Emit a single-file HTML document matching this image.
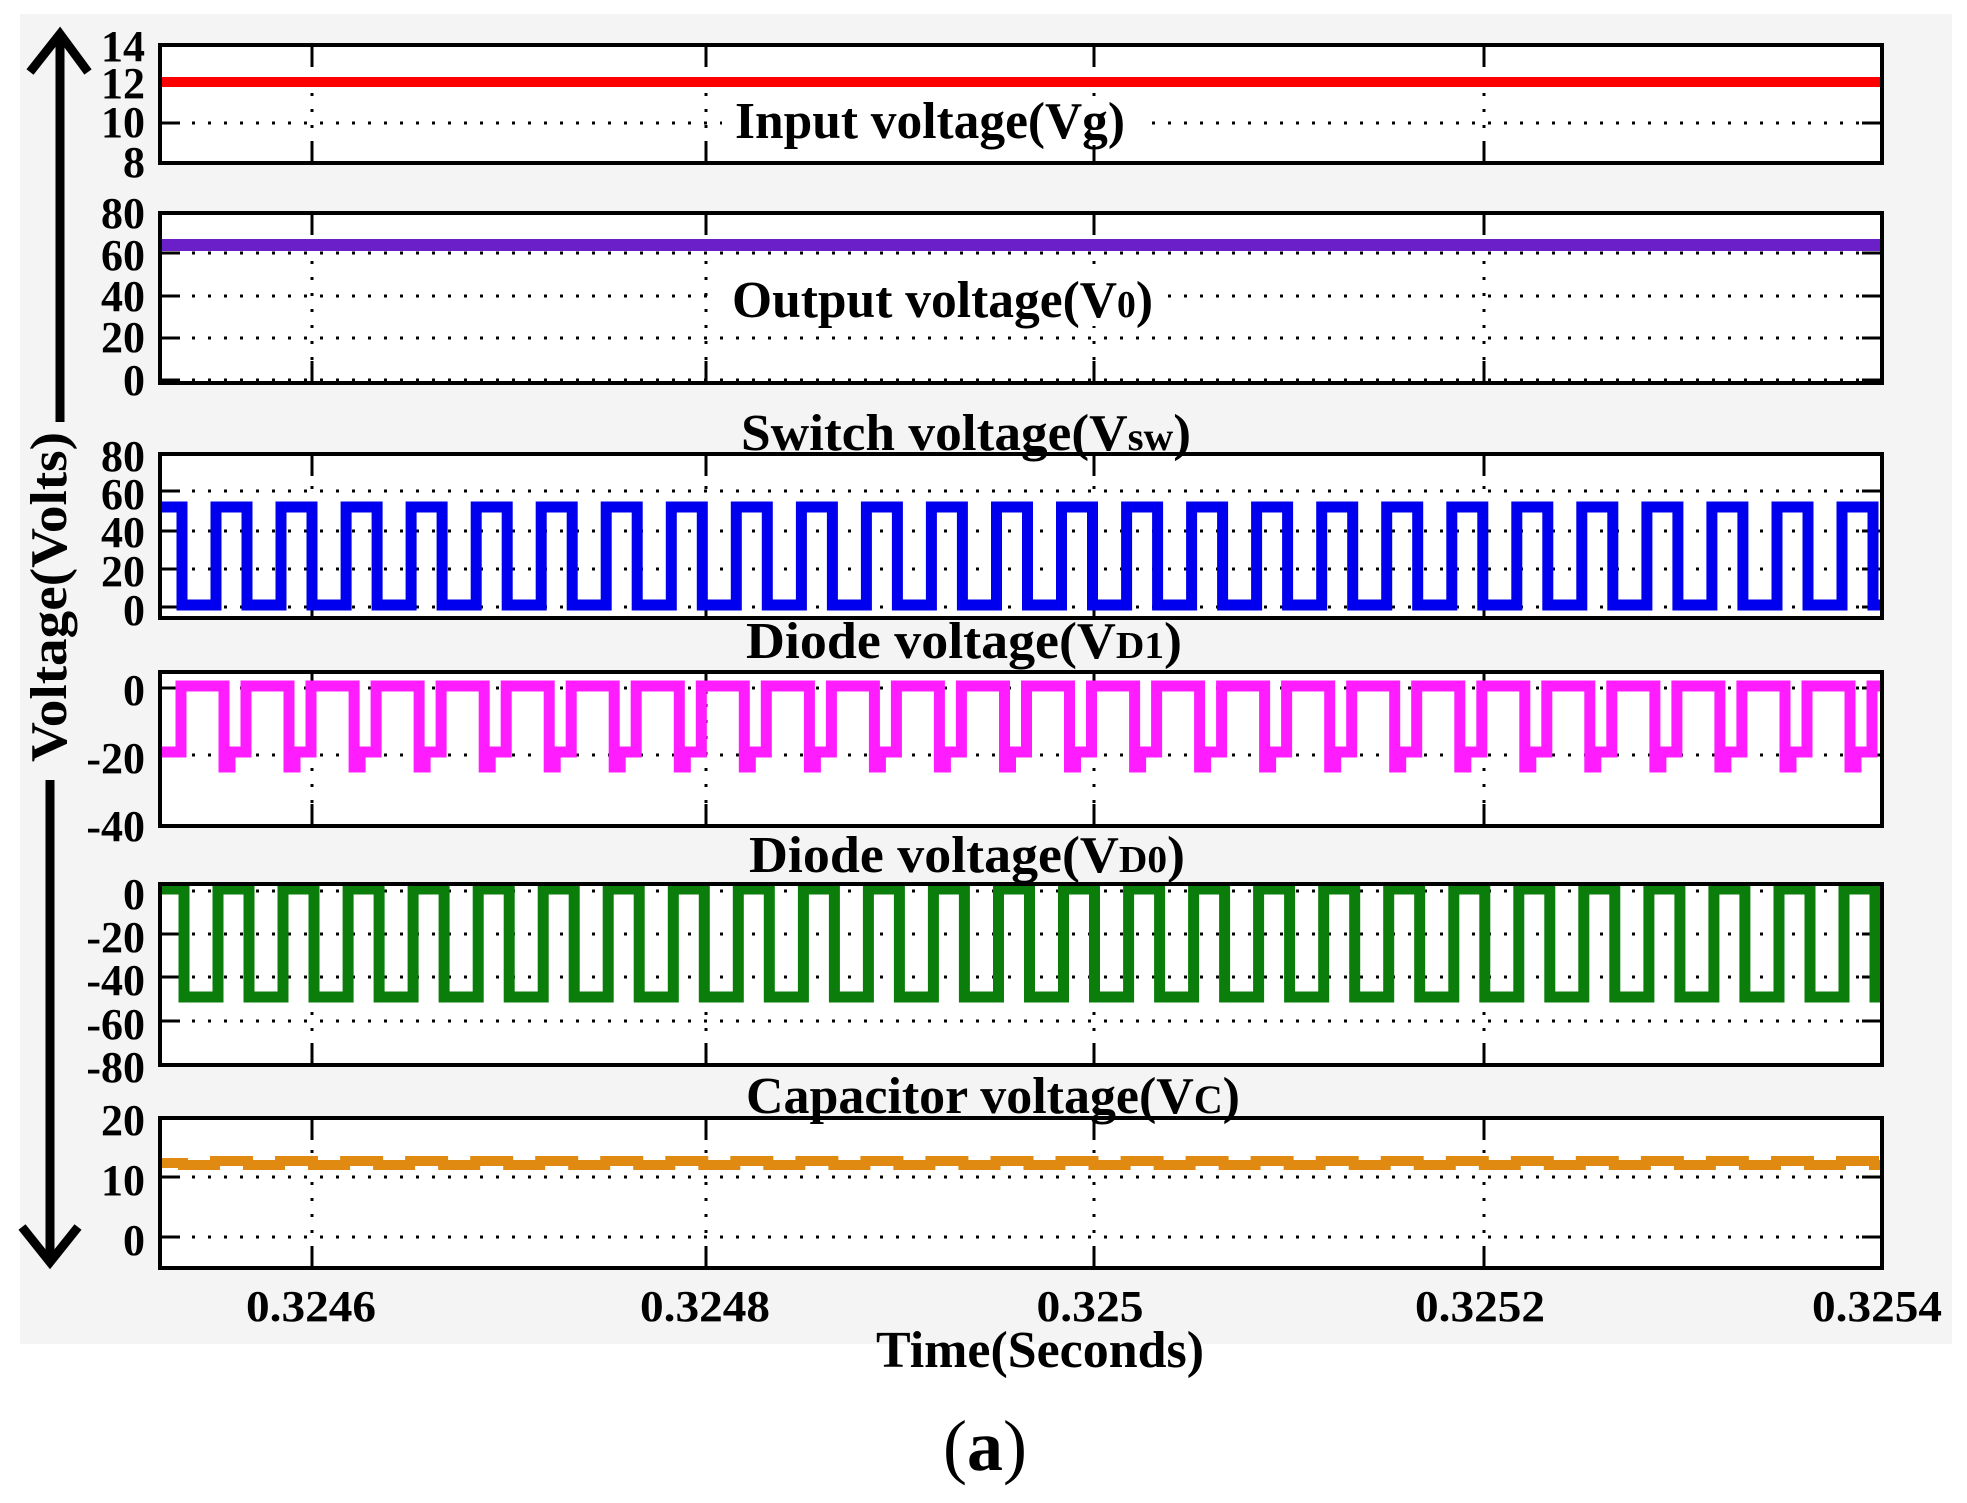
<!DOCTYPE html>
<html><head><meta charset="utf-8"><style>
html,body{margin:0;padding:0;background:#fff;}
svg{display:block;}
text{font-family:"Liberation Serif",serif;font-weight:bold;fill:#000;}
</style></head><body>
<svg id="s" width="1967" height="1503" viewBox="0 0 1967 1503" xmlns="http://www.w3.org/2000/svg">
<rect x="20" y="14" width="1932" height="1330" fill="#f4f4f4"/>
<g id="g"></g>
<g id="t">
<text x="735" y="138" font-size="52" textLength="390" lengthAdjust="spacingAndGlyphs">Input voltage(Vg)</text>
<text x="732" y="317" font-size="52" textLength="421" lengthAdjust="spacingAndGlyphs">Output voltage(V<tspan font-size="38">0</tspan>)</text>
<text x="741" y="450" font-size="52" textLength="450" lengthAdjust="spacingAndGlyphs">Switch voltage(V<tspan font-size="40">sw</tspan>)</text>
<text x="746" y="658" font-size="52" textLength="436" lengthAdjust="spacingAndGlyphs">Diode voltage(V<tspan font-size="38">D1</tspan>)</text>
<text x="749" y="872" font-size="52" textLength="436" lengthAdjust="spacingAndGlyphs">Diode voltage(V<tspan font-size="38">D0</tspan>)</text>
<text x="746" y="1113" font-size="52" textLength="494" lengthAdjust="spacingAndGlyphs">Capacitor voltage(V<tspan font-size="40">C</tspan>)</text>
<text x="311" y="1321" font-size="44" text-anchor="middle" textLength="130" lengthAdjust="spacingAndGlyphs">0.3246</text>
<text x="705" y="1321" font-size="44" text-anchor="middle" textLength="130" lengthAdjust="spacingAndGlyphs">0.3248</text>
<text x="1090" y="1321" font-size="44" text-anchor="middle" textLength="107" lengthAdjust="spacingAndGlyphs">0.325</text>
<text x="1480" y="1321" font-size="44" text-anchor="middle" textLength="130" lengthAdjust="spacingAndGlyphs">0.3252</text>
<text x="1877" y="1321" font-size="44" text-anchor="middle" textLength="130" lengthAdjust="spacingAndGlyphs">0.3254</text>
<text x="876" y="1367" font-size="52" textLength="328" lengthAdjust="spacingAndGlyphs">Time(Seconds)</text>
<text x="985" y="1470" font-size="72" text-anchor="middle" style="font-weight:normal">(<tspan font-weight="bold">a</tspan>)</text>
<text transform="translate(66,597) rotate(-90)" font-size="52" text-anchor="middle" textLength="330" lengthAdjust="spacingAndGlyphs">Voltage(Volts)</text>
</g>
<line x1="60" y1="422" x2="60" y2="40" stroke="#000" stroke-width="9"/>
<polyline points="30,72 60,34 88,72" fill="none" stroke="#000" stroke-width="9"/>
<line x1="50" y1="780" x2="50" y2="1258" stroke="#000" stroke-width="9"/>
<polyline points="22,1227 50,1262 78,1227" fill="none" stroke="#000" stroke-width="9"/>
</svg>
<script>
(function(){
var NS="http://www.w3.org/2000/svg",g=document.getElementById('g'),T=document.getElementById('t');
function el(n,a,p){var e=document.createElementNS(NS,n);for(var k in a)e.setAttribute(k,a[k]);(p||g).appendChild(e);return e;}
var L=160,R=1882,VG=[312,706,1094,1484],P=65.04;
var panels=[
 {top:45,bot:163,grid:[84,123],ticks:[[14,46],[12,83],[10,122],[8,162]]},
 {top:213,bot:383,grid:[253,296,338,380],ticks:[[80,213],[60,255],[40,296],[20,337],[0,380]]},
 {top:454,bot:618,grid:[491,531,569,607],ticks:[[80,456],[60,494],[40,532],[20,571],[0,610]]},
 {top:672,bot:826,grid:[688,755],ticks:[[0,690],[-20,758],[-40,826]]},
 {top:884,bot:1065,grid:[891,934,977,1021],ticks:[[0,894],[-20,937],[-40,980],[-60,1024],[-80,1067]]},
 {top:1118,bot:1268,grid:[1177,1237],ticks:[[20,1120],[10,1180],[0,1240]]}
];
panels.forEach(function(p){
 el('rect',{x:L,y:p.top,width:R-L,height:p.bot-p.top,fill:'#fff'});
 p.grid.forEach(function(y){
  el('line',{x1:L,y1:y,x2:R,y2:y,stroke:'#000','stroke-width':3,'stroke-dasharray':'3 13'});
  el('line',{x1:L,y1:y,x2:L+20,y2:y,stroke:'#000','stroke-width':3});
  el('line',{x1:R-20,y1:y,x2:R,y2:y,stroke:'#000','stroke-width':3});
 });
 VG.forEach(function(x){
  el('line',{x1:x,y1:p.top,x2:x,y2:p.bot,stroke:'#000','stroke-width':3,'stroke-dasharray':'3 13'});
  el('line',{x1:x,y1:p.top,x2:x,y2:p.top+22,stroke:'#000','stroke-width':3});
  el('line',{x1:x,y1:p.bot-22,x2:x,y2:p.bot,stroke:'#000','stroke-width':3});
 });
 p.ticks.forEach(function(t){
  var e=el('text',{x:145,y:t[1]+15,'font-size':44,'text-anchor':'end'},T);e.textContent=(t[0]<0?'-'+(-t[0]):t[0]);
 });
});
function sq(riseAt,hiW,yH,yL,startHigh){
 var d='M'+L+' '+(startHigh?yH:yL);
 var pts=[];
 for(var k=-3;k<40;k++){var r=riseAt+P*k,f=r+hiW;pts.push([r,1]);pts.push([f,0]);}
 pts.forEach(function(q){var x=q[0];if(x<=L||x>=R)return;
  d+=' H'+x.toFixed(1)+' V'+(q[1]?yH:yL);});
 d+=' H'+R;return d;
}
var W=el('g',{});
el('path',{d:'M'+L+' 82 H'+R,stroke:'#ff0000','stroke-width':10,fill:'none'},W);
el('path',{d:'M'+L+' 245 H'+R,stroke:'#6a1fc8','stroke-width':12,fill:'none'},W);
el('path',{d:sq(216,31,507,605,true),stroke:'#0000ee','stroke-width':11,fill:'none'},W);
el('path',{d:sq(218,31,889,997,true),stroke:'#0a7d0a','stroke-width':11,fill:'none'},W);
var d='M'+L+' 752';
for(var k=-3;k<40;k++){var f=224+P*k,r=f+22;
 if(f>L&&f<R){d+=' H'+f.toFixed(1)+' V767 H'+(f+6).toFixed(1)+' V752';}
 if(r>L&&r<R){d+=' H'+r.toFixed(1)+' V686';}}
d+=' H'+R;
el('path',{d:d,stroke:'#ff1cff','stroke-width':11,fill:'none'},W);
var od='M'+L+' 1163';
for(var k=-3;k<40;k++){var a=215+P*k,b=a+33;
 if(a>L&&a<R)od+=' H'+a.toFixed(1)+' V1161';
 if(b>L&&b<R)od+=' H'+b.toFixed(1)+' V1165';}
od+=' H'+R;
el('path',{d:od,stroke:'#e08a12','stroke-width':10,fill:'none'},W);
panels.forEach(function(p){el('rect',{x:L,y:p.top,width:R-L,height:p.bot-p.top,fill:'none',stroke:'#000','stroke-width':4});});
var tb=[[722,97,418,48],[720,276,445,50]];
tb.forEach(function(b){el('rect',{x:b[0],y:b[1],width:b[2],height:b[3],fill:'#fff'});});
})();
</script>
</body></html>
